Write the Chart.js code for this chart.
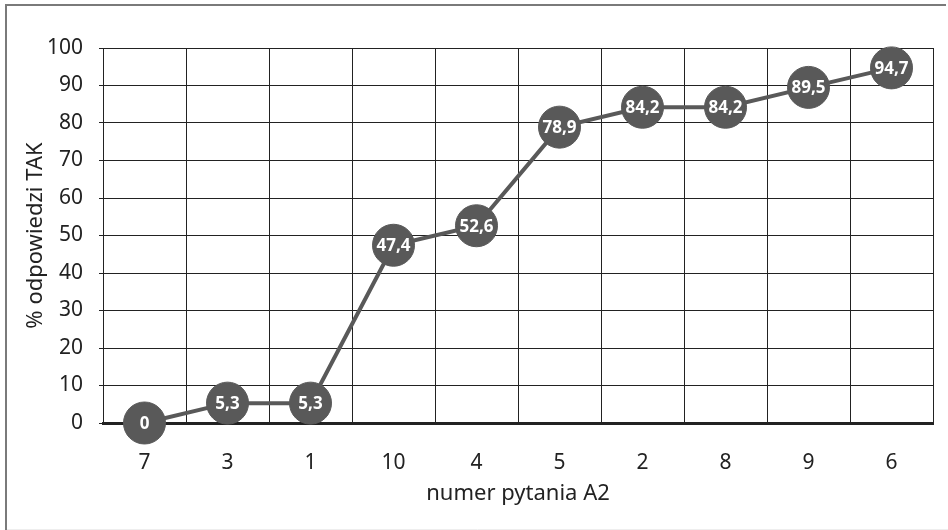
<!DOCTYPE html>
<html lang="pl">
<head>
    <meta charset="UTF-8">
    <title>numer pytania A2</title>
    <script src="https://cdn.jsdelivr.net/npm/chart.js"></script>
    <style>
        body {
            margin: 0;
            padding: 0;
            background: #ffffff;
            overflow: hidden;
        }
        .chart-container {
            width: 948px;
            height: 530px;
        }
    </style>
</head>
<body>
    <div class="chart-container">
        <canvas id="myChart"></canvas>
    </div>
    <script>
        const questions = ['7', '3', '1', '10', '4', '5', '2', '8', '9', '6'];
        const yesPercent = [0, 5.3, 5.3, 47.4, 52.6, 78.9, 84.2, 84.2, 89.5, 94.7];
        const yTicks = [0, 10, 20, 30, 40, 50, 60, 70, 80, 90, 100];

        const fontFamily = "'Noto Sans', 'DejaVu Sans', sans-serif";
        const markColor = '#595959';

        // outer frame (left + top lines, like the source image)
        const framePlugin = {
            id: 'frame',
            beforeDraw(chart) {
                const ctx = chart.ctx;
                ctx.save();
                ctx.strokeStyle = '#7a7a7a';
                ctx.lineWidth = 2;
                ctx.beginPath();
                ctx.moveTo(6, 530);
                ctx.lineTo(6, 5);
                ctx.lineTo(946, 5);
                ctx.stroke();
                ctx.strokeStyle = '#eeeeee';
                ctx.lineWidth = 1;
                ctx.beginPath();
                ctx.moveTo(7, 529.5);
                ctx.lineTo(948, 529.5);
                ctx.stroke();
                ctx.restore();
            }
        };

        // white value labels inside the markers
        const valueLabels = {
            id: 'valueLabels',
            afterDatasetsDraw(chart) {
                const ctx = chart.ctx;
                const meta = chart.getDatasetMeta(0);
                ctx.save();
                ctx.fillStyle = '#ffffff';
                ctx.font = "bold 17px " + fontFamily;
                ctx.textAlign = 'center';
                ctx.textBaseline = 'middle';
                meta.data.forEach((pt, i) => {
                    const txt = String(yesPercent[i]).replace('.', ',');
                    ctx.fillText(txt, pt.x, pt.y + 1);
                });
                ctx.restore();
            }
        };

        const ctx = document.getElementById('myChart').getContext('2d');
        new Chart(ctx, {
            type: 'line',
            data: {
                labels: questions,
                datasets: [{
                    label: '% odpowiedzi TAK',
                    data: yesPercent,
                    borderColor: markColor,
                    backgroundColor: markColor,
                    borderWidth: 4,
                    pointRadius: 21,
                    pointHoverRadius: 21,
                    pointBackgroundColor: markColor,
                    pointBorderColor: markColor,
                    pointBorderWidth: 1,
                    tension: 0,
                    clip: false
                }]
            },
            options: {
                responsive: true,
                maintainAspectRatio: false,
                animation: false,
                layout: {
                    autoPadding: false,
                    padding: { left: 0, top: 48, right: 15, bottom: 0 }
                },
                plugins: {
                    legend: { display: false },
                    tooltip: { enabled: false }
                },
                scales: {
                    x: {
                        offset: true,
                        grid: {
                            offset: true,
                            color: '#222222',
                            lineWidth: 1,
                            drawTicks: false
                        },
                        border: { color: '#222222', width: 3 },
                        ticks: {
                            color: '#222222',
                            font: { family: fontFamily, size: 21 },
                            padding: 27
                        },
                        title: {
                            display: true,
                            text: 'numer pytania A2',
                            color: '#222222',
                            font: { family: fontFamily, size: 22 },
                            padding: { top: 0, bottom: 23 }
                        },
                        afterFit(scale) {
                            scale.height = 107;
                        }
                    },
                    y: {
                        min: 0,
                        max: 100,
                        afterBuildTicks(scale) {
                            scale.ticks = yTicks.map(v => ({ value: v }));
                        },
                        grid: {
                            color: '#222222',
                            lineWidth: 1,
                            tickLength: 4
                        },
                        border: { color: '#222222', width: 1 },
                        ticks: {
                            color: '#222222',
                            font: { family: fontFamily, size: 21 },
                            padding: 16
                        },
                        title: {
                            display: true,
                            text: '% odpowiedzi TAK',
                            color: '#222222',
                            font: { family: fontFamily, size: 22 },
                            padding: { top: 23, bottom: 0 }
                        },
                        afterFit(scale) {
                            scale.width = 103;
                        }
                    }
                }
            },
            plugins: [framePlugin, valueLabels]
        });
    </script>
</body>
</html>
